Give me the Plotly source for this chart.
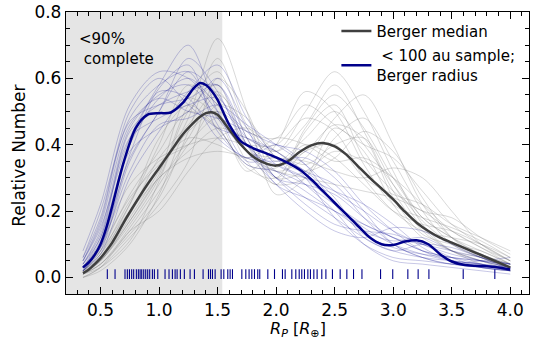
import plotly.graph_objects as go

# ---------------- data ----------------
# fine grid for the two median curves
X_MED = [0.35, 0.4, 0.45, 0.5, 0.55, 0.6, 0.65, 0.7, 0.8, 0.9, 1.0, 1.1, 1.2, 1.3, 1.35, 1.4, 1.45,
         1.5, 1.6, 1.7, 1.8, 1.9, 2.0, 2.1, 2.2, 2.3, 2.4, 2.5, 2.6, 2.7, 2.8, 2.9, 3.0, 3.1, 3.2,
         3.3, 3.4, 3.5, 3.6, 3.7, 3.8, 3.9, 4.0]
berger_median = [0.013, 0.024, 0.04, 0.058, 0.08, 0.105, 0.135, 0.167, 0.225, 0.28, 0.33, 0.38,
                 0.43, 0.468, 0.484, 0.495, 0.498, 0.49, 0.445, 0.40, 0.365, 0.345, 0.337, 0.35,
                 0.378, 0.398, 0.405, 0.395, 0.37, 0.335, 0.30, 0.268, 0.235, 0.198, 0.165, 0.14,
                 0.12, 0.105, 0.09, 0.075, 0.06, 0.045, 0.03]
sample_median = [0.03, 0.045, 0.068, 0.10, 0.15, 0.215, 0.285, 0.35, 0.45, 0.49, 0.495, 0.497,
                 0.525, 0.572, 0.586, 0.58, 0.562, 0.535, 0.46, 0.41, 0.39, 0.376, 0.362, 0.345,
                 0.325, 0.295, 0.26, 0.225, 0.19, 0.155, 0.12, 0.10, 0.098, 0.108, 0.112, 0.10,
                 0.07, 0.048, 0.038, 0.035, 0.034, 0.03, 0.024]

# coarse grid for individual realisations
X_REAL = [0.35, 0.5, 0.75, 1.0, 1.25, 1.5, 1.75, 2.0, 2.25, 2.5, 2.75, 3.0, 3.25, 3.5, 3.75, 4.0]
gray_1 = [0.01, 0.04, 0.15, 0.28, 0.42, 0.55, 0.45, 0.35, 0.42, 0.50, 0.40, 0.28, 0.17, 0.10, 0.06, 0.03]
gray_2 = [0.02, 0.08, 0.25, 0.38, 0.50, 0.45, 0.33, 0.30, 0.45, 0.55, 0.45, 0.30, 0.18, 0.12, 0.08, 0.04]
gray_3 = [0.00, 0.03, 0.12, 0.22, 0.35, 0.60, 0.50, 0.30, 0.32, 0.38, 0.35, 0.30, 0.22, 0.14, 0.09, 0.05]
gray_4 = [0.01, 0.06, 0.22, 0.40, 0.58, 0.52, 0.35, 0.28, 0.30, 0.42, 0.48, 0.35, 0.20, 0.10, 0.06, 0.03]
gray_5 = [0.03, 0.10, 0.28, 0.36, 0.40, 0.42, 0.40, 0.40, 0.48, 0.44, 0.30, 0.20, 0.14, 0.12, 0.10, 0.06]
gray_6 = [0.01, 0.05, 0.18, 0.32, 0.48, 0.72, 0.50, 0.25, 0.30, 0.45, 0.38, 0.22, 0.12, 0.08, 0.05, 0.02]
gray_7 = [0.02, 0.07, 0.20, 0.30, 0.38, 0.45, 0.42, 0.38, 0.50, 0.62, 0.50, 0.32, 0.16, 0.08, 0.05, 0.03]
gray_8 = [0.00, 0.02, 0.10, 0.25, 0.45, 0.50, 0.38, 0.36, 0.35, 0.32, 0.30, 0.33, 0.30, 0.20, 0.10, 0.05]
gray_9 = [0.01, 0.05, 0.16, 0.30, 0.52, 0.62, 0.42, 0.30, 0.38, 0.40, 0.30, 0.25, 0.22, 0.16, 0.12, 0.08]
gray_10 = [0.02, 0.09, 0.24, 0.34, 0.42, 0.40, 0.36, 0.42, 0.40, 0.35, 0.36, 0.30, 0.18, 0.12, 0.07, 0.04]
gray_11 = [0.01, 0.04, 0.14, 0.26, 0.40, 0.48, 0.40, 0.32, 0.36, 0.48, 0.55, 0.40, 0.22, 0.12, 0.07, 0.04]
gray_12 = [0.03, 0.08, 0.22, 0.42, 0.52, 0.45, 0.34, 0.33, 0.40, 0.36, 0.28, 0.20, 0.16, 0.14, 0.10, 0.05]
gray_13 = [0.00, 0.03, 0.14, 0.20, 0.32, 0.42, 0.45, 0.38, 0.34, 0.40, 0.42, 0.28, 0.15, 0.08, 0.06, 0.02]
gray_14 = [0.01, 0.06, 0.19, 0.36, 0.46, 0.56, 0.40, 0.28, 0.44, 0.52, 0.36, 0.26, 0.20, 0.18, 0.12, 0.07]
gray_15 = [0.02, 0.05, 0.17, 0.30, 0.36, 0.38, 0.36, 0.32, 0.30, 0.28, 0.26, 0.24, 0.20, 0.14, 0.09, 0.04]
gray_16 = [0.01, 0.04, 0.13, 0.24, 0.44, 0.66, 0.46, 0.38, 0.46, 0.58, 0.44, 0.26, 0.14, 0.08, 0.04, 0.02]
gray_17 = [0.02, 0.06, 0.20, 0.33, 0.44, 0.50, 0.44, 0.42, 0.52, 0.46, 0.40, 0.36, 0.26, 0.16, 0.10, 0.05]
gray_18 = [0.01, 0.03, 0.11, 0.29, 0.50, 0.58, 0.38, 0.34, 0.38, 0.46, 0.42, 0.24, 0.13, 0.10, 0.08, 0.04]
gray_19 = [0.02, 0.07, 0.23, 0.35, 0.40, 0.52, 0.48, 0.36, 0.32, 0.36, 0.44, 0.38, 0.24, 0.12, 0.06, 0.03]
gray_20 = [0.01, 0.05, 0.17, 0.31, 0.54, 0.48, 0.32, 0.40, 0.56, 0.50, 0.34, 0.22, 0.18, 0.15, 0.11, 0.06]

blue_1 = [0.04, 0.14, 0.45, 0.55, 0.58, 0.48, 0.38, 0.34, 0.30, 0.22, 0.15, 0.10, 0.07, 0.05, 0.04, 0.03]
blue_2 = [0.02, 0.08, 0.35, 0.50, 0.62, 0.55, 0.40, 0.32, 0.26, 0.20, 0.16, 0.12, 0.08, 0.06, 0.05, 0.04]
blue_3 = [0.06, 0.18, 0.50, 0.60, 0.52, 0.45, 0.42, 0.38, 0.30, 0.18, 0.10, 0.06, 0.05, 0.04, 0.03, 0.02]
blue_4 = [0.03, 0.10, 0.38, 0.45, 0.50, 0.60, 0.45, 0.30, 0.28, 0.25, 0.18, 0.12, 0.10, 0.08, 0.06, 0.04]
blue_5 = [0.05, 0.15, 0.42, 0.58, 0.70, 0.50, 0.35, 0.36, 0.32, 0.24, 0.12, 0.08, 0.06, 0.05, 0.04, 0.02]
blue_6 = [0.02, 0.09, 0.32, 0.46, 0.48, 0.52, 0.46, 0.40, 0.34, 0.26, 0.20, 0.14, 0.10, 0.07, 0.05, 0.03]
blue_7 = [0.04, 0.12, 0.44, 0.52, 0.56, 0.58, 0.40, 0.30, 0.22, 0.16, 0.14, 0.13, 0.10, 0.06, 0.03, 0.02]
blue_8 = [0.03, 0.11, 0.40, 0.56, 0.54, 0.42, 0.36, 0.35, 0.36, 0.30, 0.20, 0.10, 0.06, 0.04, 0.03, 0.02]
blue_9 = [0.08, 0.22, 0.52, 0.62, 0.60, 0.50, 0.38, 0.30, 0.24, 0.18, 0.12, 0.08, 0.10, 0.09, 0.06, 0.04]
blue_10 = [0.02, 0.07, 0.30, 0.44, 0.56, 0.64, 0.48, 0.36, 0.28, 0.20, 0.10, 0.05, 0.04, 0.03, 0.02, 0.01]
blue_11 = [0.05, 0.16, 0.46, 0.54, 0.50, 0.48, 0.44, 0.40, 0.38, 0.32, 0.22, 0.14, 0.08, 0.05, 0.04, 0.03]
blue_12 = [0.03, 0.10, 0.36, 0.50, 0.66, 0.56, 0.38, 0.28, 0.20, 0.14, 0.12, 0.15, 0.14, 0.10, 0.06, 0.03]
blue_13 = [0.04, 0.13, 0.42, 0.48, 0.52, 0.54, 0.42, 0.38, 0.32, 0.28, 0.18, 0.10, 0.06, 0.04, 0.05, 0.06]
blue_14 = [0.06, 0.20, 0.48, 0.58, 0.62, 0.46, 0.34, 0.32, 0.28, 0.22, 0.16, 0.12, 0.08, 0.06, 0.04, 0.02]
blue_15 = [0.03, 0.12, 0.40, 0.54, 0.60, 0.52, 0.44, 0.34, 0.30, 0.26, 0.22, 0.16, 0.09, 0.05, 0.03, 0.02]
blue_16 = [0.05, 0.17, 0.47, 0.52, 0.54, 0.58, 0.42, 0.28, 0.24, 0.20, 0.14, 0.11, 0.12, 0.08, 0.05, 0.03]
blue_17 = [0.02, 0.09, 0.37, 0.57, 0.64, 0.44, 0.36, 0.40, 0.34, 0.22, 0.13, 0.09, 0.07, 0.06, 0.05, 0.04]

gray_curves = [gray_1, gray_2, gray_3, gray_4, gray_5, gray_6, gray_7, gray_8, gray_9, gray_10,
               gray_11, gray_12, gray_13, gray_14, gray_15, gray_16, gray_17, gray_18, gray_19, gray_20]
blue_curves = [blue_1, blue_2, blue_3, blue_4, blue_5, blue_6, blue_7, blue_8, blue_9,
               blue_10, blue_11, blue_12, blue_13, blue_14, blue_15, blue_16, blue_17]

# planet radii of the <100 au sample (rug)
rug_radii = [0.558, 0.624, 0.709, 0.729, 0.747, 0.766, 0.783, 0.806, 0.823, 0.838, 0.852, 0.869,
             0.886, 0.903, 0.920, 0.943, 0.960, 0.989, 1.051, 1.085, 1.114, 1.137, 1.154, 1.182,
             1.216, 1.265, 1.302, 1.376, 1.422, 1.439, 1.456, 1.479, 1.530, 1.553, 1.587, 1.607,
             1.627, 1.707, 1.741, 1.769, 1.792, 1.815, 1.843, 1.860, 1.929, 1.986, 2.054, 2.077,
             2.134, 2.168, 2.197, 2.219, 2.242, 2.271, 2.293, 2.322, 2.350, 2.390, 2.425, 2.481,
             2.547, 2.604, 2.661, 2.733, 2.892, 2.996, 3.125, 3.213, 3.305, 3.598, 3.868]

completeness_limit = 1.54
X_RANGE = [0.205, 4.16]
Y_RANGE = [-0.05, 0.8]

# ---------------- figure ----------------
FONT = "DejaVu Sans"
fig = go.Figure()

for c in gray_curves:
    fig.add_trace(go.Scatter(x=X_REAL, y=c, mode="lines",
                             line=dict(color="rgba(128,128,128,0.3)", width=1, shape="spline", smoothing=0.9),
                             showlegend=False, hoverinfo="skip"))
for c in blue_curves:
    fig.add_trace(go.Scatter(x=X_REAL, y=c, mode="lines",
                             line=dict(color="rgba(0,0,139,0.22)", width=1, shape="spline", smoothing=0.9),
                             showlegend=False, hoverinfo="skip"))

fig.add_trace(go.Scatter(x=X_MED, y=berger_median, mode="lines", name="Berger median",
                         line=dict(color="#3f3f3f", width=2.5, shape="spline", smoothing=0.8),
                         legendgroup="a"))
fig.add_trace(go.Scatter(x=X_MED, y=sample_median, mode="lines",
                         name="&nbsp;< 100 au sample;<br>Berger radius",
                         line=dict(color="#00008B", width=2.5, shape="spline", smoothing=0.8),
                         legendgroup="b"))

fig.add_trace(go.Scatter(x=rug_radii, y=[0.01] * len(rug_radii), mode="markers",
                         marker=dict(symbol="line-ns", size=7, line=dict(color="#00008B", width=1.1)),
                         showlegend=False, hoverinfo="skip"))

fig.add_shape(type="rect", xref="x", yref="y", x0=X_RANGE[0], x1=completeness_limit,
              y0=Y_RANGE[0], y1=Y_RANGE[1], fillcolor="rgb(229,229,229)", line=dict(width=0),
              layer="below")

fig.add_annotation(x=0.3, y=0.751, xref="x", yref="y", xanchor="left", yanchor="top", align="left",
                   text="<90%<br>&nbsp;complete", showarrow=False,
                   font=dict(family=FONT, size=15, color="black"))

# axis titles
fig.add_annotation(x=0.5, y=-0.08, xref="paper", yref="paper", xanchor="center", yanchor="top",
                   text="<i>R</i><sub><i>P</i></sub> [<i>R</i><sub>⊕</sub>]", showarrow=False,
                   font=dict(family=FONT, size=16, color="black"))
fig.add_annotation(x=-0.1015, y=0.49, xref="paper", yref="paper", xanchor="center", yanchor="middle",
                   text="Relative Number", textangle=-90, showarrow=False,
                   font=dict(family=FONT, size=17, color="black"))

axis_common = dict(showline=True, linecolor="black", linewidth=1.3, mirror="allticks",
                   ticks="inside", ticklen=7, tickwidth=1.3, tickcolor="black",
                   showgrid=False, zeroline=False, automargin=False,
                   tickfont=dict(family=FONT, size=17, color="black"))

fig.update_xaxes(range=X_RANGE, tick0=0.5, dtick=0.5, tickformat=".1f",
                 minor=dict(ticks="inside", ticklen=4, tickwidth=1, tickcolor="black", dtick=0.1, tick0=0.0,
                            showgrid=False),
                 **axis_common)
fig.update_yaxes(range=Y_RANGE, tick0=0.0, dtick=0.2, tickformat=".1f",
                 minor=dict(ticks="inside", ticklen=4, tickwidth=1, tickcolor="black", dtick=0.05, tick0=0.0,
                            showgrid=False),
                 **axis_common)

fig.update_layout(width=533, height=339, margin=dict(l=66, r=4, t=12, b=45),
                  plot_bgcolor="white", paper_bgcolor="white",
                  font=dict(family=FONT, size=15, color="black"),
                  legend=dict(x=0.584, y=0.99, xanchor="left", yanchor="top", bgcolor="rgba(0,0,0,0)",
                              font=dict(family=FONT, size=15, color="black"), tracegroupgap=2,
                              itemwidth=30))

fig.write_html("out.html", config={"displayModeBar": False},
               post_script="document.body.style.margin='0';")
